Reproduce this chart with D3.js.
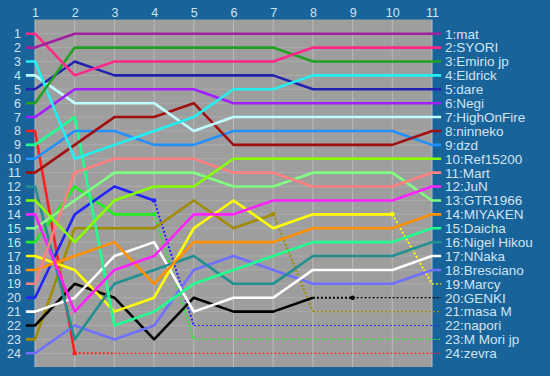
<!DOCTYPE html>
<html>
<head>
<meta charset="utf-8">
<script src="https://cdn.jsdelivr.net/npm/d3@7"></script>
<style>
  body { margin: 0; background: #17639a; }
  svg { display: block; font-family: Arial, "Liberation Sans", sans-serif; }
</style>
</head>
<body>
<svg id="chart" width="550" height="376"></svg>
<script>
const laps = [1, 2, 3, 4, 5, 6, 7, 8, 9, 10, 11];
const rows = d3.range(1, 25);

const names = ['mat', 'SYORI', 'Emirio jp', 'Eldrick', 'dare', 'Negi', 'HighOnFire', 'ninneko',
    'dzd', 'Ref15200', 'Mart', 'JuN', 'GTR1966', 'MIYAKEN', 'Daicha', 'Nigel Hikou',
    'NNaka', 'Bresciano', 'Marcy', 'GENKI', 'masa M', 'napori', 'M Mori jp', 'zevra'];

const colors = ['#a020a0', '#ff2a88', '#22a022', '#22f0f0', '#2222b0', '#a020ff', '#c0ffff', '#a01010',
    '#2290ff', '#88ff00', '#ff8080', '#ff22ff', '#80ff80', '#ff9000', '#22ff90', '#209090',
    '#ffffff', '#7070ff', '#ffff00', '#000000', '#a08c00', '#2222ff', '#22ee22', '#ff2020'];

// position on each completed lap (solid part of the line)
const positions = [
    [2, 1, 1, 1, 1, 1, 1, 1, 1, 1, 1],
    [1, 4, 3, 3, 3, 3, 3, 2, 2, 2, 2],
    [6, 2, 2, 2, 2, 2, 2, 3, 3, 3, 3],
    [3, 10, 9, 8, 7, 5, 5, 4, 4, 4, 4],
    [5, 3, 4, 4, 4, 4, 4, 5, 5, 5, 5],
    [7, 5, 5, 5, 5, 6, 6, 6, 6, 6, 6],
    [4, 6, 6, 6, 8, 7, 7, 7, 7, 7, 7],
    [11, 9, 7, 7, 6, 9, 9, 9, 9, 9, 8],
    [10, 8, 8, 9, 9, 8, 8, 8, 8, 8, 9],
    [13, 16, 13, 12, 12, 10, 10, 10, 10, 10, 10],
    [19, 11, 10, 10, 10, 11, 11, 12, 12, 12, 11],
    [14, 21, 18, 17, 14, 14, 13, 13, 13, 13, 12],
    [15, 13, 11, 11, 11, 12, 12, 11, 11, 11, 13],
    [18, 17, 16, 19, 16, 16, 16, 15, 15, 15, 14],
    [9, 7, 22, 21, 19, 18, 17, 16, 16, 16, 15],
    [12, 23, 19, 18, 17, 19, 19, 17, 17, 17, 16],
    [21, 20, 17, 16, 21, 20, 20, 18, 18, 18, 17],
    [24, 22, 23, 22, 18, 17, 18, 19, 19, 19, 18],
    [17, 18, 21, 20, 15, 13, 15, 14, 14, 14],
    [22, 19, 20, 23, 20, 21, 21, 20],
    [23, 15, 15, 15, 13, 15, 14],
    [20, 14, 12, 13],
    [16, 12, 14, 14],
    [8, 24]
];

// lap where a retired driver's marker sits
const outLaps = [null, null, null, null, null, null, null, null, null, null, null, null,
    null, null, null, null, null, null, 10, 9, 7, 4, 4, 2];

const plot = { left: 35, right: 432, top: 19.5, bottom: 367 };

const svg = d3.select('#chart');

const x = d3.scaleLinear().domain([1, 11]).range([plot.left, plot.right]);
const y = d3.scaleLinear().domain([1, 24]).range([33.7, 353.3]);

svg.append('rect')
    .attr('x', plot.left)
    .attr('y', plot.top)
    .attr('width', plot.right - plot.left)
    .attr('height', plot.bottom - plot.top)
    .attr('fill', '#9e9e9e');

// grid
svg.append('g')
    .selectAll('line')
    .data(rows)
    .join('line')
    .attr('x1', plot.left)
    .attr('x2', plot.right)
    .attr('y1', d => y(d))
    .attr('y2', d => y(d))
    .attr('stroke', '#acacac')
    .attr('stroke-width', 1);

svg.append('g')
    .selectAll('line')
    .data(laps)
    .join('line')
    .attr('x1', d => x(d))
    .attr('x2', d => x(d))
    .attr('y1', plot.top)
    .attr('y2', plot.bottom)
    .attr('stroke', '#bababa')
    .attr('stroke-width', 1);

// axes
const xAxis = svg.append('g')
    .attr('transform', `translate(0, ${plot.top - 3})`)
    .call(d3.axisTop(x).tickValues(laps).tickSize(0).tickPadding(0).tickFormat(d3.format('d')));

const yAxis = svg.append('g')
    .attr('transform', `translate(${plot.left - 14}, 0)`)
    .call(d3.axisLeft(y).tickValues(rows).tickSize(0).tickPadding(0).tickFormat(d3.format('d')));

[xAxis, yAxis].forEach(a => {
    a.select('.domain').remove();
    a.selectAll('text')
        .attr('fill', '#d2e4f2')
        .style('font-size', '12.5px')
        .style('font-family', 'Arial, "Liberation Sans", sans-serif');
});

const line = d3.line()
    .x(d => x(d[0]))
    .y(d => y(d[1]));

const lines = svg.append('g')
    .attr('fill', 'none')
    .attr('stroke-linejoin', 'round');

// draw last driver first so the leaders sit on top
d3.range(names.length).reverse().forEach(i => {
    const pos = positions[i];
    const finalPos = i + 1;
    const color = colors[i];
    const n = pos.length;

    const solid = [[0.77, pos[0]]].concat(pos.map((p, k) => [k + 1, p]));
    if (n === 11) {
        solid.push([11.23, finalPos]);
    }
    lines.append('path')
        .attr('d', line(solid))
        .attr('stroke', color)
        .attr('stroke-width', 2.6);

    if (n < 11) {
        // dotted lap into retirement, then thin dotted at the classified spot
        const out = outLaps[i];
        const first = out > n
            ? [[n, pos[n - 1]], [out, finalPos]]
            : [[n, pos[n - 1]], [n + 1, finalPos]];
        lines.append('path')
            .attr('d', line(first))
            .attr('stroke', color)
            .attr('stroke-width', 2)
            .attr('stroke-dasharray', '2,2');

        const rest = [[first[1][0], finalPos], [11.23, finalPos]];
        lines.append('path')
            .attr('d', line(rest))
            .attr('stroke', color)
            .attr('stroke-width', 1.2)
            .attr('stroke-dasharray', '2,2');

        const mPos = out <= n ? pos[out - 1] : finalPos;
        lines.append('circle')
            .attr('cx', x(out))
            .attr('cy', y(mPos))
            .attr('r', 2.3)
            .attr('fill', color);
    }
});

// driver labels
svg.append('g')
    .selectAll('text')
    .data(names)
    .join('text')
    .attr('x', 445)
    .attr('y', (d, i) => y(i + 1))
    .attr('dy', '0.36em')
    .attr('fill', '#d2e4f2')
    .style('font-size', '13.5px')
    .text((d, i) => `${i + 1}:${d}`);
</script>
</body>
</html>
